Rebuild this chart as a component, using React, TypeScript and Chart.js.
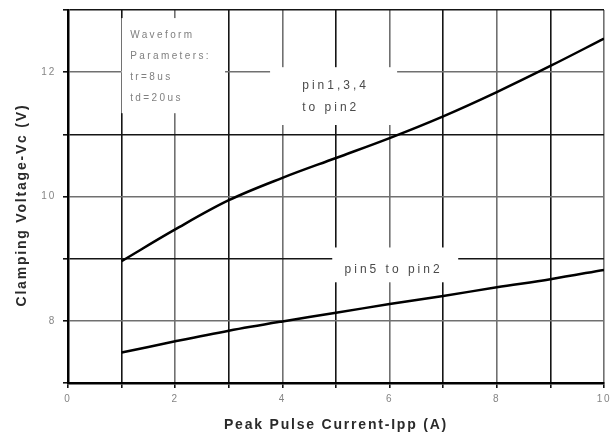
import React, { useEffect, useRef } from "react";
import { Chart, registerables } from "chart.js";

Chart.register(...registerables);

const currentA = [1, 2, 3, 4, 5, 6, 7, 8, 9, 10];
const pin134ToPin2 = [8.96, 9.47, 9.94, 10.3, 10.62, 10.94, 11.29, 11.68, 12.1, 12.54];
const pin5ToPin2 = [7.49, 7.67, 7.84, 7.99, 8.13, 8.27, 8.4, 8.54, 8.67, 8.82];
const xTickLabels = [0, 2, 4, 6, 8, 10];
const yTickLabels = [8, 10, 12];

const FONT = "'Liberation Sans', Arial, sans-serif";

// white label boxes (data coordinates): [x0, x1, y0, y1]
const boxes = [
  [1.0, 2.93, 11.34, 12.87],
  [3.77, 6.14, 11.15, 12.08],
  [4.93, 7.28, 8.62, 9.18],
];

const annotationPlugin = {
  id: "annot",
  beforeDraw(chart: any) {
    chart.ctx.letterSpacing = "1.8px";
  },
  beforeDatasetsDraw(chart: any) {
    const { ctx, scales } = chart;
    const xs = scales.x, ys = scales.y;
    ctx.save();
    ctx.fillStyle = "#ffffff";
    boxes.forEach(([x0, x1, y0, y1]) => {
      const px0 = xs.getPixelForValue(x0);
      const px1 = xs.getPixelForValue(x1);
      const py0 = ys.getPixelForValue(y1);
      const py1 = ys.getPixelForValue(y0);
      ctx.fillRect(px0, py0, px1 - px0, py1 - py0);
    });
    ctx.restore();
  },
  afterDatasetsDraw(chart: any) {
    const { ctx, scales } = chart;
    const xs = scales.x, ys = scales.y;
    ctx.save();
    ctx.textBaseline = "middle";
    ctx.textAlign = "left";
    ctx.fillStyle = "#808080";
    ctx.letterSpacing = "2.4px";
    ctx.font = `10px ${FONT}`;
    const wx = xs.getPixelForValue(1.16);
    const wy = ys.getPixelForValue(12.59);
    ["Waveform", "Parameters:", "tr=8us", "td=20us"].forEach((t, i) => {
      ctx.fillText(t, wx, wy + i * 21);
    });
    ctx.fillStyle = "#4a4a4a";
    ctx.letterSpacing = "3px";
    ctx.font = `12px ${FONT}`;
    const px = xs.getPixelForValue(4.37);
    const py = ys.getPixelForValue(11.79);
    ctx.fillText("pin1,3,4", px, py);
    ctx.fillText("to pin2", px, py + 22);
    ctx.fillText("pin5 to pin2", xs.getPixelForValue(5.16), ys.getPixelForValue(8.83));
    ctx.restore();
  },
};

const gridColor = (ctx: any) => {
  const v = ctx.tick ? ctx.tick.value : 0;
  return Math.round(v) % 2 === 0 ? "#707070" : "#151515";
};

export default function App() {
  const ref = useRef<HTMLCanvasElement>(null);
  useEffect(() => {
    if (!ref.current) return;
    const chart = new Chart(ref.current, {
      type: "line",
      data: {
        datasets: [
          {
            label: "pin1,3,4 to pin2",
            data: currentA.map((x, i) => ({ x, y: pin134ToPin2[i] })),
            borderColor: "#000",
            borderWidth: 2.5,
            pointRadius: 0,
            tension: 0.35,
          },
          {
            label: "pin5 to pin2",
            data: currentA.map((x, i) => ({ x, y: pin5ToPin2[i] })),
            borderColor: "#000",
            borderWidth: 2.5,
            pointRadius: 0,
            tension: 0.35,
          },
        ],
      },
      options: {
        animation: false,
        responsive: false,
        layout: { padding: { top: 10, right: 12, left: 0, bottom: 0 } },
        plugins: { legend: { display: false }, tooltip: { enabled: false } },
        scales: {
          x: {
            type: "linear",
            min: 0,
            max: 10,
            afterFit: (s: any) => { s.height = 55; s.paddingLeft = 0; s.paddingRight = 0; },
            ticks: {
              stepSize: 1,
              autoSkip: false,
              maxRotation: 0,
              padding: 5,
              color: "#858585",
              font: { family: FONT, size: 10 },
              callback: (v: any) => (xTickLabels.includes(v) ? String(v) : ""),
            },
            grid: { color: gridColor, lineWidth: 1.6, tickLength: 5, tickColor: "#111", tickWidth: 1.6 },
            border: { color: "#000", width: 2.5 },
            title: {
              display: true,
              text: "Peak Pulse Current-Ipp (A)",
              color: "#2a2a2a",
              font: { family: FONT, size: 14, weight: "bold" },
              padding: { top: 8, bottom: 4.5 },
            },
          },
          y: {
            type: "linear",
            min: 7,
            max: 13,
            afterFit: (s: any) => { s.width = 68; s.paddingTop = 0; s.paddingBottom = 0; },
            ticks: {
              stepSize: 1,
              autoSkip: false,
              padding: 7,
              color: "#858585",
              font: { family: FONT, size: 10 },
              callback: (v: any) => (yTickLabels.includes(v) ? String(v) : ""),
            },
            grid: { color: gridColor, lineWidth: 1.6, tickLength: 5, tickColor: "#111", tickWidth: 1.6 },
            border: { color: "#000", width: 2.5 },
            title: {
              display: true,
              text: "Clamping Voltage-Vc (V)   ",
              color: "#2a2a2a",
              font: { family: FONT, size: 14, weight: "bold" },
              padding: { top: 13.5, bottom: 0 },
            },
          },
        },
      },
      plugins: [annotationPlugin],
    } as any);
    return () => chart.destroy();
  }, []);
  return (
    <div style={{ position: "absolute", left: 0, top: 0, width: 616, height: 438, background: "#fff" }}>
      <canvas ref={ref} width={616} height={438} />
    </div>
  );
}
